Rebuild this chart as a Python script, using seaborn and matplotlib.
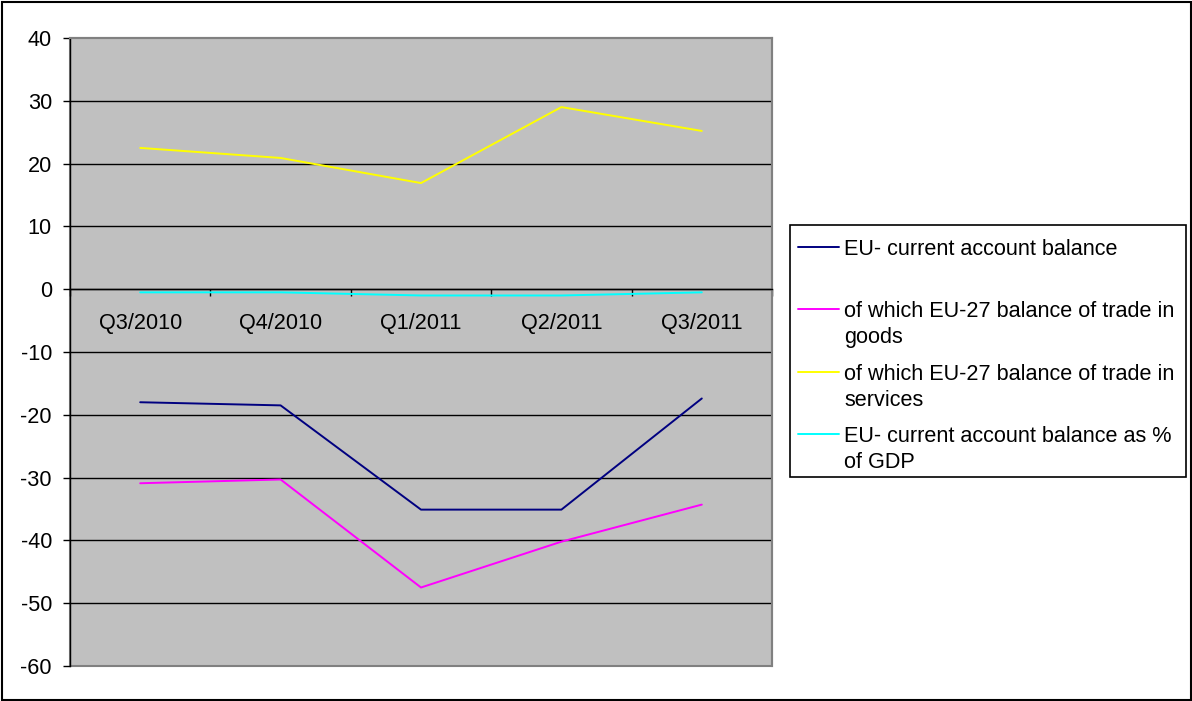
import textwrap

import matplotlib
matplotlib.use("Agg")
import matplotlib.pyplot as plt
from matplotlib.lines import Line2D
from matplotlib.patches import Rectangle
import numpy as np
import pandas as pd
import seaborn as sns

# Quarterly balances (EUR bn) and current account as % of GDP
quarters = ["Q3/2010", "Q4/2010", "Q1/2011", "Q2/2011", "Q3/2011"]
current_account = [-18.0, -18.5, -35.1, -35.1, -17.4]
goods_balance = [-30.9, -30.3, -47.5, -40.2, -34.3]
services_balance = [22.5, 20.9, 16.9, 29.0, 25.2]
current_account_pct_gdp = [-0.5, -0.5, -1.0, -1.0, -0.5]

series_names = [
    "EU- current account balance",
    "of which EU-27 balance of trade in goods",
    "of which EU-27 balance of trade in services",
    "EU- current account balance as % of GDP",
]
series_values = [current_account, goods_balance, services_balance, current_account_pct_gdp]
series_colors = ["#000080", "#FF00FF", "#FFFF00", "#00FFFF"]
y_ticks = list(range(-60, 41, 10))

df = pd.concat(
    [pd.DataFrame({"quarter": quarters, "value": vals, "series": name})
     for name, vals in zip(series_names, series_values)],
    ignore_index=True,
)

sns.set_theme(style="white")
plt.rcParams["font.family"] = ["Liberation Sans", "DejaVu Sans"]
FS = 15.6
LW = 1.4

W, H = 1192, 701
fig = plt.figure(figsize=(W / 100, H / 100), dpi=100)
fig.patch.set_facecolor("white")
ax = fig.add_axes([70 / W, (H - 666) / H, 702 / W, 628 / H])
ax.set_facecolor("#C0C0C0")

sns.lineplot(
    data=df, x="quarter", y="value", hue="series",
    hue_order=series_names, palette=dict(zip(series_names, series_colors)),
    sort=False, linewidth=LW, legend=False, ax=ax, zorder=3,
)

ax.set_xlim(-0.5, len(quarters) - 0.5)
ax.set_ylim(-60, 40)
ax.set_xlabel("")
ax.set_ylabel("")

# y axis
ax.set_yticks(y_ticks)
ax.set_yticklabels([str(v) for v in y_ticks], fontsize=FS, color="black")
ax.tick_params(axis="y", which="major", direction="out", length=5, width=1,
               color="black", pad=8, left=True)
ax.yaxis.grid(True, color="black", linewidth=1.0)
gl = ax.get_ygridlines()
gl[0].set_visible(False)
gl[-1].set_visible(False)
ax.set_axisbelow(True)

# x axis crossing at zero, category labels under it
ax.spines["bottom"].set_position(("data", 0))
ax.spines["bottom"].set_color("black")
ax.spines["bottom"].set_linewidth(1.0)
ax.spines["bottom"].set_zorder(2.5)
ax.spines["left"].set_color("black")
ax.spines["left"].set_linewidth(1.0)
ax.spines["top"].set_color("#808080")
ax.spines["top"].set_linewidth(1.5)
ax.spines["right"].set_color("#808080")
ax.spines["right"].set_linewidth(1.5)
ax.set_xticks(np.arange(len(quarters)))
ax.set_xticklabels(quarters, fontsize=FS, color="black")
ax.set_xticks(np.arange(len(quarters) + 1) - 0.5, minor=True)
ax.tick_params(axis="x", which="major", length=0, pad=17, bottom=True)
ax.tick_params(axis="x", which="minor", direction="out", length=5, width=1,
               color="black", bottom=True)

# bottom edge of the plot area
ax.add_patch(Rectangle((0, 0), 1, 1, transform=ax.transAxes, fill=False,
                       edgecolor="#808080", linewidth=1.5, zorder=0.5, clip_on=False))

# legend box
fig.add_artist(Rectangle((790 / W, 1 - 477 / H), 396 / W, 252 / H, transform=fig.transFigure,
                         facecolor="white", edgecolor="black", linewidth=1.2))
entry_first_line_y = [247, 309, 372, 434]
line_gap = 26
for name, color, y0 in zip(series_names, series_colors, entry_first_line_y):
    fig.add_artist(Line2D([798 / W, 839 / W], [1 - y0 / H, 1 - y0 / H],
                          transform=fig.transFigure, color=color, linewidth=LW))
    for i, part in enumerate(textwrap.wrap(name, 34)):
        fig.text(844 / W, 1 - (y0 + i * line_gap) / H, part, fontsize=FS,
                 va="center_baseline", ha="left", color="black")

# outer chart border
fig.add_artist(Rectangle((1.5 / W, 1.5 / H), (W - 3) / W, (H - 3) / H,
                         transform=fig.transFigure, fill=False,
                         edgecolor="black", linewidth=1.5))

fig.savefig("out.png", dpi=100)
